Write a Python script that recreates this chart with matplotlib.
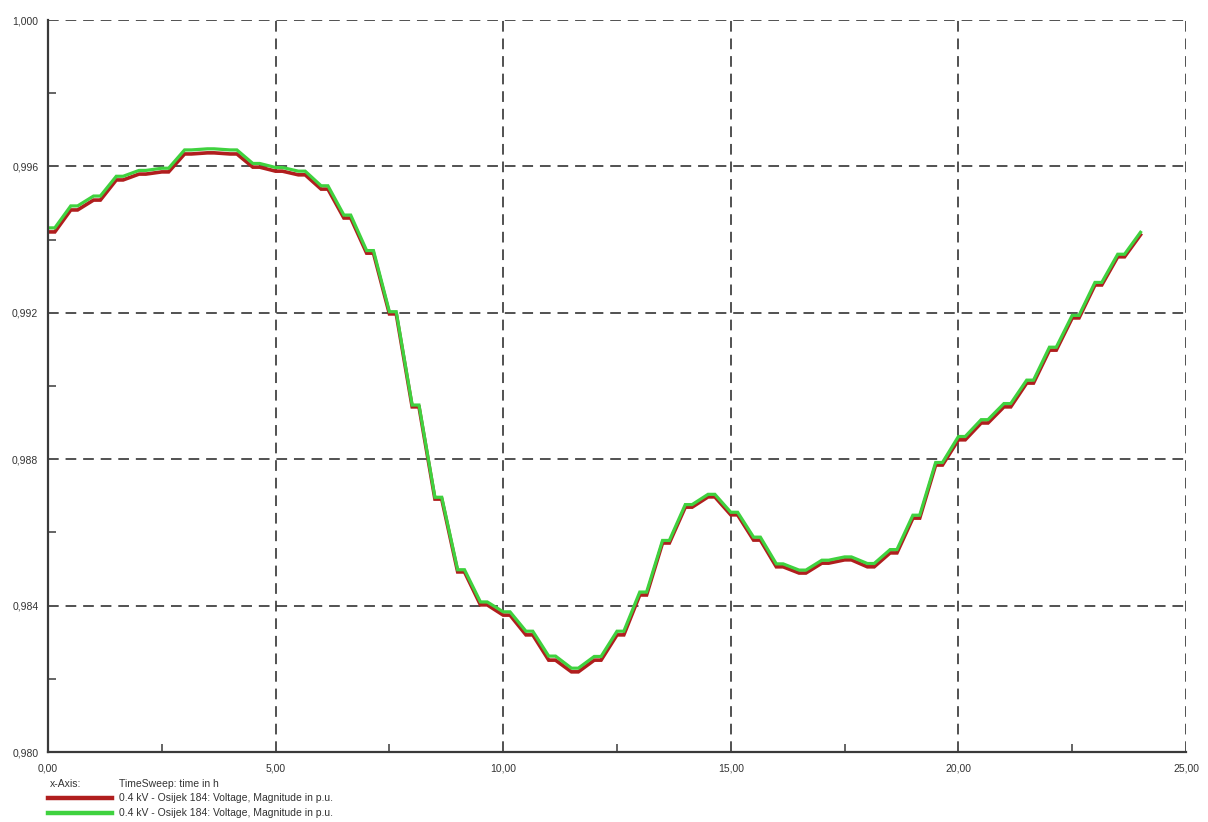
import matplotlib
matplotlib.use("Agg")
import matplotlib.pyplot as plt
from matplotlib.lines import Line2D
from matplotlib.ticker import MultipleLocator, FuncFormatter

plt.rcParams['font.family'] = ['Liberation Sans Narrow', 'Liberation Sans', 'DejaVu Sans']

# ---- data (half-hourly readings, time in h) ----
time_h = [i * 0.5 for i in range(49)]
voltage_red = [
    0.99421, 0.99481, 0.99508, 0.99563, 0.99579, 0.99585, 0.99634, 0.99637,
    0.99634, 0.99598, 0.99587, 0.99577, 0.99538, 0.99459, 0.99363, 0.99197,
    0.98943, 0.98691, 0.98492, 0.98402, 0.98374, 0.98320, 0.98251, 0.98219,
    0.98251, 0.98320, 0.98429, 0.98571, 0.98669, 0.98697, 0.98648, 0.98579,
    0.98506, 0.98489, 0.98516, 0.98525, 0.98506, 0.98544, 0.98639, 0.98784,
    0.98853, 0.98899, 0.98943, 0.99008, 0.99098, 0.99186, 0.99276, 0.99353,
    0.99413,
]
voltage_green = [
    0.99432, 0.99492, 0.99519, 0.99573, 0.99589, 0.99595, 0.99645, 0.99648,
    0.99645, 0.99608, 0.99597, 0.99587, 0.99547, 0.99467, 0.99370, 0.99203,
    0.98948, 0.98696, 0.98498, 0.98410, 0.98383, 0.98330, 0.98262, 0.98229,
    0.98261, 0.98330, 0.98437, 0.98578, 0.98676, 0.98704, 0.98655, 0.98587,
    0.98514, 0.98497, 0.98524, 0.98533, 0.98515, 0.98553, 0.98647, 0.98791,
    0.98862, 0.98908, 0.98952, 0.99016, 0.99106, 0.99193, 0.99283, 0.99360,
    0.99420,
]
series_label = "0.4 kV - Osijek 184: Voltage, Magnitude in p.u."
x_axis_label = "TimeSweep: time in h"

W, H = 1208, 822
fig = plt.figure(figsize=(W / 100, H / 100), dpi=100)
ax = fig.add_axes([48 / W, 1 - 752 / H, (1186 - 48) / W, (752 - 20) / H])


def hold_ramp(t, v, hold=0.15):
    xs, ys = [], []
    for i in range(len(t)):
        xs.append(t[i]); ys.append(v[i])
        if i < len(t) - 1:
            xs.append(t[i] + hold); ys.append(v[i])
    return xs, ys


red_c = '#b01e1e'
green_c = '#3fd23f'
xr, yr = hold_ramp(time_h, voltage_red)
xg, yg = hold_ramp(time_h, voltage_green)
ax.plot(xr, yr, color=red_c, lw=2.6, solid_joinstyle='miter', zorder=3)
ax.plot(xg, yg, color=green_c, lw=2.3, solid_joinstyle='miter', zorder=4)

ax.set_xlim(0, 25)
ax.set_ylim(0.980, 1.000)
ax.xaxis.set_major_locator(MultipleLocator(5))
ax.xaxis.set_minor_locator(MultipleLocator(2.5))
ax.yaxis.set_major_locator(MultipleLocator(0.004))
ax.yaxis.set_minor_locator(MultipleLocator(0.002))
ax.xaxis.set_major_formatter(FuncFormatter(lambda v, p: f"{v:.2f}".replace('.', ',')))
ax.yaxis.set_major_formatter(FuncFormatter(lambda v, p: f"{v:.3f}".replace('.', ',')))

ax.grid(True, which='major', color='#222222', linestyle=(0, (7, 4.5)), linewidth=1.1)
ax.set_axisbelow(False)

for s in ('top', 'right'):
    ax.spines[s].set_visible(False)
for s in ('left', 'bottom'):
    ax.spines[s].set_color('#3a3a3a')
    ax.spines[s].set_linewidth(1.6)
    ax.spines[s].set_zorder(5)

ax.tick_params(which='major', length=0, labelsize=7.5, labelcolor='#333333', pad=7)
ax.tick_params(which='minor', direction='in', length=6, width=1.1, color='#3a3a3a')
ax.tick_params(axis='x', which='major', pad=8)

# legend-like block below the plot
txt_kw = dict(fontsize=7.5, color='#333333', va='center', ha='left')
fig.text(50 / W, 1 - 784 / H, "x-Axis:", **txt_kw)
fig.text(119 / W, 1 - 784 / H, x_axis_label, **txt_kw)
for ypix, col in ((798, red_c), (813, green_c)):
    fig.add_artist(Line2D([48 / W, 112 / W], [1 - ypix / H, 1 - ypix / H],
                          transform=fig.transFigure, color=col, lw=3.2))
    fig.text(119 / W, 1 - ypix / H, series_label, **txt_kw)

fig.savefig("out.png", dpi=100, facecolor='white')
